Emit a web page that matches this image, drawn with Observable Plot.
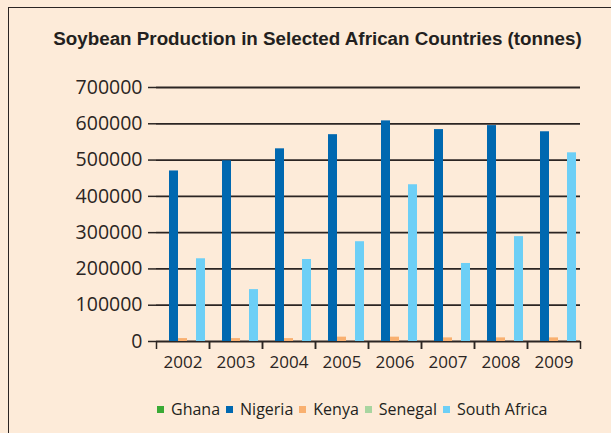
<!DOCTYPE html>
<html>
<head>
<meta charset="utf-8">
<script src="https://cdn.jsdelivr.net/npm/d3@7"></script>
<script src="https://cdn.jsdelivr.net/npm/@observablehq/plot@0.6"></script>
<style>
  html, body { margin: 0; padding: 0; width: 611px; height: 433px; overflow: hidden; background: #fdebd9; }
  #frame { position: absolute; left: 8px; top: 7px; width: 700px; height: 500px; border: 1.5px solid #2b2523; box-sizing: border-box; }
  #title { position: absolute; left: 0; width: 635px; top: 28px; text-align: center; font-family: "Liberation Sans Narrow", "Liberation Sans", sans-serif; font-weight: bold; font-size: 18.8px; color: #231f20; }
  #chart { position: absolute; left: 0; top: 70px; }
  #legend { position: absolute; top: 398px; left: 157px; display: flex; align-items: center; font-family: "Open Sans", sans-serif; font-size: 16px; color: #231f20; }
  #legend .item { display: flex; align-items: center; margin-right: 6px; }
  #legend .sw { width: 7px; height: 7px; margin-right: 7px; }
</style>
</head>
<body>
<div id="frame"></div>
<div id="title">Soybean Production in Selected African Countries (tonnes)</div>
<div id="chart"></div>
<div id="legend"></div>
<script>
const years = ["2002", "2003", "2004", "2005", "2006", "2007", "2008", "2009"];
const series = ["Ghana", "Nigeria", "Kenya", "Senegal", "South Africa"];
const ghana = [0, 0, 0, 0, 0, 0, 0, 0];
const nigeria = [470000, 498000, 531000, 570000, 608000, 584000, 595000, 578000];
const kenya = [8000, 8000, 8000, 12000, 12000, 10000, 10000, 10000];
const senegal = [0, 0, 0, 0, 0, 0, 0, 0];
const southAfrica = [228000, 143000, 226000, 275000, 432000, 215000, 289000, 520000];
const yTicks = [0, 100000, 200000, 300000, 400000, 500000, 600000, 700000];
const colors = ["#3aaa35", "#0068b0", "#f9b070", "#a8d5a0", "#6dcff6"];

const valuesBySeries = [ghana, nigeria, kenya, senegal, southAfrica];
const data = [];
years.forEach((yr, i) => {
  series.forEach((s, j) => data.push({year: yr, series: s, value: valuesBySeries[j][i]}));
});

const ink = "#2b2523";
const chart = Plot.plot({
  width: 611,
  height: 310,
  marginTop: 17,
  marginBottom: 39,
  marginLeft: 156,
  marginRight: 31,
  style: {fontFamily: "'Open Sans', sans-serif", background: "transparent", color: ink},
  fx: {domain: years, padding: 0, label: null},
  x: {domain: series, paddingInner: 0, paddingOuter: 0.3, axis: null},
  y: {domain: [0, 700000], axis: null},
  color: {domain: series, range: colors},
  marks: [
    Plot.ruleY(yTicks, {stroke: ink, strokeWidth: 1.8}),
    Plot.barY(data, {fx: "year", x: "series", y: "value", fill: "series"}),
    Plot.axisY({ticks: yTicks, tickSize: 8, tickPadding: 6, fontSize: 19.5, tickFormat: d => String(d), line: true, label: null, stroke: ink, strokeWidth: 1.5}),
    Plot.axisFx({anchor: "bottom", tickSize: 0, tickPadding: 14, fontSize: 17, label: null}),
    Plot.axisFx({anchor: "bottom", tickSize: 8, tickFormat: null, dx: -26.5, label: null, stroke: ink, strokeWidth: 1.5}),
    Plot.axisFx([years[years.length - 1]], {anchor: "bottom", tickSize: 8, tickFormat: null, dx: 26.5, label: null, stroke: ink, strokeWidth: 1.5})
  ]
});
document.getElementById("chart").appendChild(chart);

const legend = document.getElementById("legend");
series.forEach((s, j) => {
  const item = document.createElement("div");
  item.className = "item";
  const sw = document.createElement("div");
  sw.className = "sw";
  sw.style.background = colors[j];
  const t = document.createElement("span");
  t.textContent = s;
  item.appendChild(sw);
  item.appendChild(t);
  legend.appendChild(item);
});
</script>
</body>
</html>
